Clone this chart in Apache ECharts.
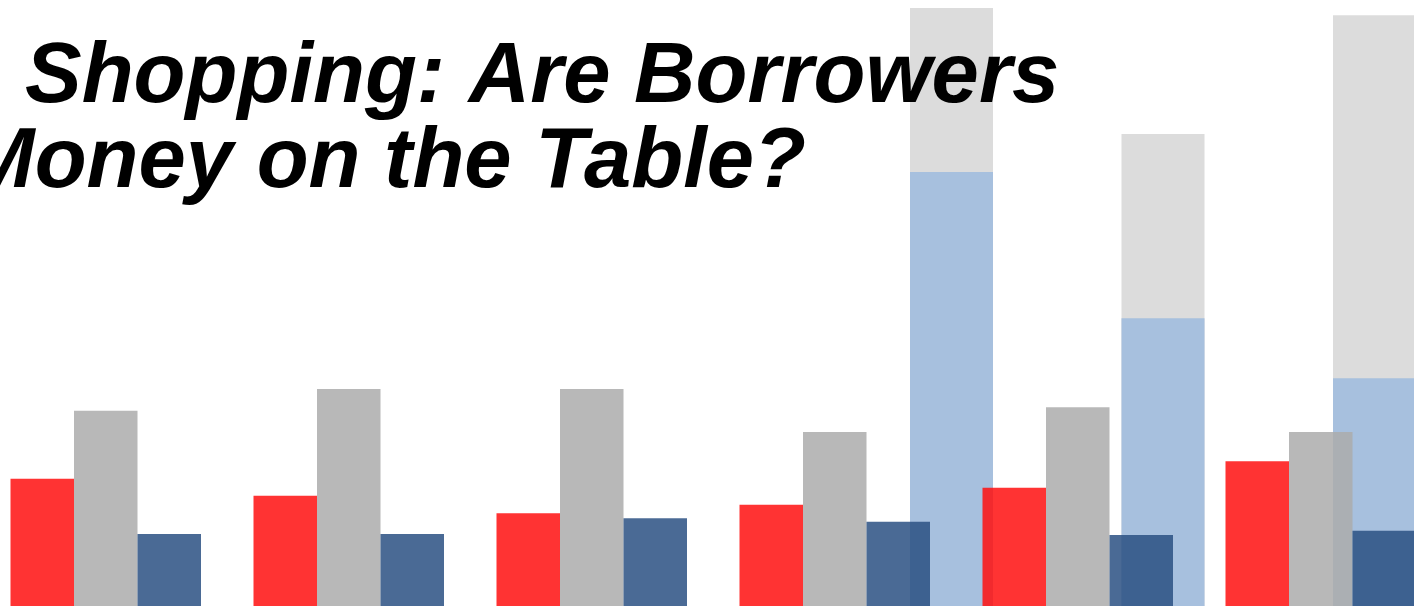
<!DOCTYPE html>
<html>
<head>
<meta charset="utf-8">
<script src="https://cdn.jsdelivr.net/npm/echarts@6/dist/echarts.min.js"></script>
<style>
html,body{margin:0;padding:0;background:#fff;}
#main{width:1414px;height:606px;}
</style>
</head>
<body>
<div id="main"></div>
<script>
// front groups (6 categories, 3 bars each)
var groups = ['G1', 'G2', 'G3', 'G4', 'G5', 'G6']
var redData = [21.0, 18.2, 15.3, 16.7, 19.5, 23.9]
var grayData = [32.2, 35.8, 35.8, 28.7, 32.8, 28.7]
var navyData = [11.9, 11.9, 14.5, 13.9, 11.7, 12.4]

// back bars on the right (3 categories)
var backCats = ['B1', 'B2', 'B3']
var backTotal = [98.7, 77.9, 97.5]
var backPart = [71.6, 47.5, 37.6]

var titleLine1 = 'Shopping: Are Borrowers'
var titleLine2 = 'Money on the Table?'

var chartDom = document.getElementById('main')
var myChart = echarts.init(chartDom)
var option

var titleFont = {
	fontFamily: '"Liberation Sans", Arial, sans-serif',
	fontSize: 85,
	fontWeight: 'bold',
	fontStyle: 'italic',
	fill: '#000'
}

option = {
	animation: false,
	backgroundColor: '#fff',
	grid: [
		{left: -15.75, width: 1458, top: 0, bottom: 0, outerBoundsMode: 'none'},
		{left: 845.75, width: 634.5, top: 0, bottom: 0, outerBoundsMode: 'none'}
	],
	xAxis: [
		{type: 'category', gridIndex: 0, data: groups, show: false},
		{type: 'category', gridIndex: 1, data: backCats, show: false}
	],
	yAxis: [
		{type: 'value', gridIndex: 0, min: 0, max: 100, show: false},
		{type: 'value', gridIndex: 1, min: 0, max: 100, show: false}
	],
	series: [
		{
			type: 'bar', xAxisIndex: 1, yAxisIndex: 1, data: backTotal,
			barWidth: 83, barGap: '-100%', z: 1,
			itemStyle: {color: '#dcdcdc'}
		},
		{
			type: 'bar', xAxisIndex: 1, yAxisIndex: 1, data: backPart,
			barWidth: 83, barGap: '-100%', z: 1,
			itemStyle: {color: '#a7c0de'}
		},
		{
			type: 'bar', xAxisIndex: 0, yAxisIndex: 0, data: redData,
			barWidth: 63.5, barGap: '0%', z: 2,
			itemStyle: {color: 'rgb(255,15,15)', opacity: 0.85}
		},
		{
			type: 'bar', xAxisIndex: 0, yAxisIndex: 0, data: grayData,
			barWidth: 63.5, barGap: '0%', z: 2,
			itemStyle: {color: 'rgb(172,172,172)', opacity: 0.85}
		},
		{
			type: 'bar', xAxisIndex: 0, yAxisIndex: 0, data: navyData,
			barWidth: 63.5, barGap: '0%', z: 2,
			itemStyle: {color: 'rgb(42,80,131)', opacity: 0.85}
		}
	],
	graphic: [
		{
			type: 'text', left: 25, top: 36, z: 10,
			style: Object.assign({text: titleLine1}, titleFont)
		},
		{
			type: 'text', right: 608, top: 121, z: 10,
			style: Object.assign({text: titleLine2}, titleFont)
		}
	]
}

myChart.setOption(option)
</script>
</body>
</html>
